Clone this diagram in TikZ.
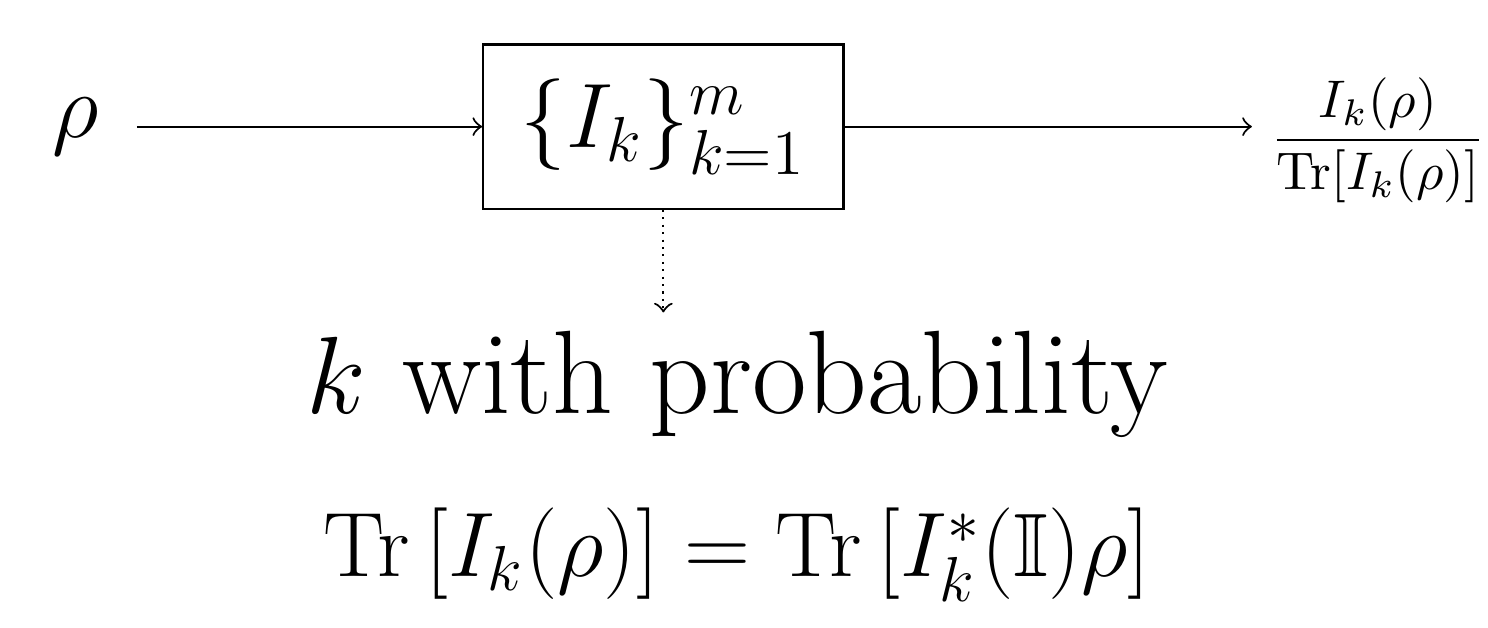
\documentclass[tikz,border=0pt]{standalone}
\usepackage{amsmath, amsfonts, amssymb}
\usetikzlibrary{arrows, positioning}

\begin{document}
\begin{tikzpicture}[
  instrument/.style={draw, minimum width=2.39cm, minimum height=1.09cm, align=center, font=\fontsize{18}{21}\selectfont},
  bigtext/.style={font=\fontsize{18}{21}\selectfont},
  hugetext/.style={font=\fontsize{22.4}{26}\selectfont},
  smalltext/.style={font=\fontsize{9.8}{12}\selectfont},
  flow/.style={->},
  outcome/.style={->, densely dotted}
]
\useasboundingbox (0,0) rectangle (9.87,-4.165);

% state, instrument and post-measurement state
\node[bigtext] (rho) at (0.50,-0.84) {$\rho$};
\node[instrument] (I) at (4.40,-0.84) {$\{I_k\}_{k=1}^{m}$};
\node[smalltext] (post) at (9.14,-0.93) {$\displaystyle\frac{I_k(\rho)}{\mathrm{Tr}[I_k(\rho)]}$};

% classical outcome
\node[hugetext] (k) at (4.89,-2.55) {$k$ with probability};
\node[font=\fontsize{17}{20}\selectfont] (prob) at (4.89,-3.68) {$\mathrm{Tr}\left[I_k(\rho)\right] = \mathrm{Tr}\left[I_k^*(\mathbb{I})\rho\right]$};

% Arrows
\draw[flow, shorten <=0.13cm] (rho) -- (I);
\draw[flow] (I.east) -- (I.east -| post.west);
\draw[outcome] (I) -- (I |- k.north);

\end{tikzpicture}
\end{document}
